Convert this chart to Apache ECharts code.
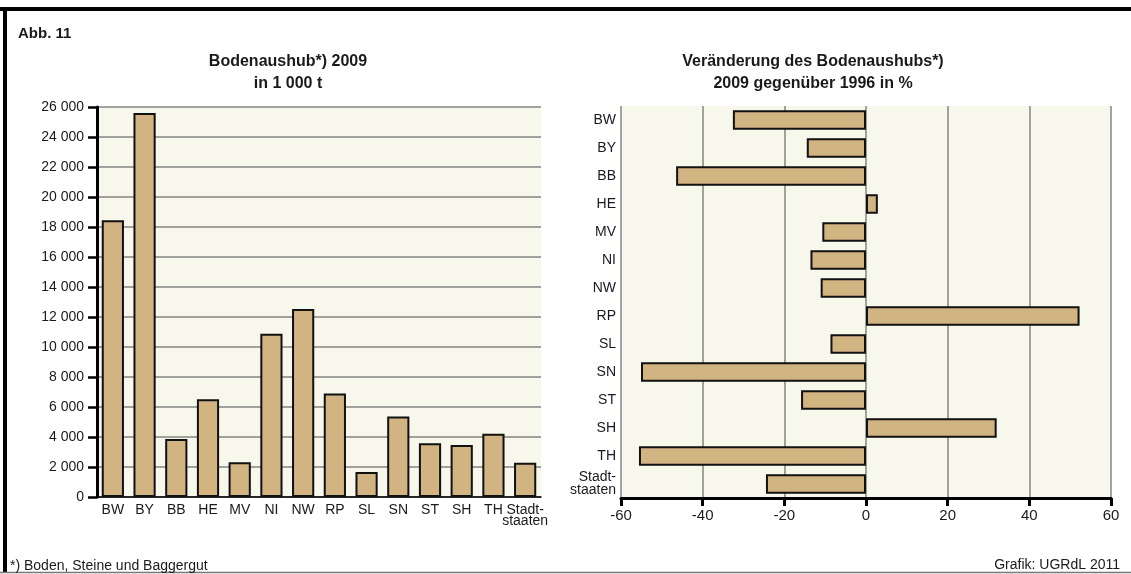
<!DOCTYPE html>
<html>
<head>
<meta charset="utf-8">
<script src="https://cdn.jsdelivr.net/npm/echarts@6/dist/echarts.min.js"></script>
<style>
html, body { margin: 0; padding: 0; background: #fff; }
#main { width: 1131px; height: 574px; }
</style>
</head>
<body>
<div id="main"></div>
<script>
// Bodenaushub 2009 in 1000 t
var laender = ['BW', 'BY', 'BB', 'HE', 'MV', 'NI', 'NW', 'RP', 'SL', 'SN', 'ST', 'SH', 'TH', 'Stadt-\nstaaten'];
var aushub2009 = [18450, 25600, 3870, 6520, 2310, 10880, 12530, 6900, 1670, 5370, 3580, 3470, 4220, 2290];
// Veraenderung 2009 gegenueber 1996 in %
var veraenderung = [-32.6, -14.5, -46.5, 2.9, -10.7, -13.6, -11.1, 52.3, -8.7, -55.1, -15.9, 32.0, -55.6, -24.5];

var barFill = '#d2b483';
var plotBg = '#f7f7eb';
var gridGray = '#858585';
var txt = '#1a1a1a';
var font = 'Liberation Sans, Arial, sans-serif';

function tausender(v) {
	return String(v).replace(/\B(?=(\d{3})+(?!\d))/g, ' ');
}

var myChart = echarts.init(document.getElementById('main'));
var option = {
	backgroundColor: '#fff',
	textStyle: { fontFamily: font },
	title: [
		{ text: 'Abb. 11', left: 13, top: 21, textStyle: { fontSize: 15, fontWeight: 'bold', color: txt } },
		{
			text: 'Bodenaushub*) 2009\nin 1 000 t', left: 283, top: 46, textAlign: 'center',
			textStyle: { fontSize: 16, fontWeight: 'bold', color: txt, lineHeight: 22 }
		},
		{
			text: 'Veränderung des Bodenaushubs*)\n2009 gegenüber 1996 in %', left: 808, top: 46, textAlign: 'center',
			textStyle: { fontSize: 16, fontWeight: 'bold', color: txt, lineHeight: 22 }
		},
		{ text: '*) Boden, Steine und Baggergut', left: 5, top: 554, textStyle: { fontSize: 14, fontWeight: 'normal', color: txt } },
		{ text: 'Grafik: UGRdL 2011', right: 6, top: 553, textStyle: { fontSize: 14, fontWeight: 'normal', color: txt } }
	],
	graphic: [
		{ type: 'line', shape: { x1: 0, y1: 9, x2: 1131, y2: 9 }, style: { stroke: '#000', lineWidth: 4 } },
		{ type: 'line', shape: { x1: 5, y1: 9, x2: 5, y2: 573 }, style: { stroke: '#000', lineWidth: 4 } },
		{ type: 'line', shape: { x1: 0, y1: 572.5, x2: 1131, y2: 572.5 }, style: { stroke: '#777', lineWidth: 1.5 } }
	],
	grid: [
		{ left: 97, top: 107, width: 444, height: 390, show: true, backgroundColor: plotBg, borderWidth: 0 },
		{ left: 621, top: 106, width: 490, height: 392, show: true, backgroundColor: plotBg, borderWidth: 0 }
	],
	xAxis: [
		{
			type: 'category', gridIndex: 0, data: laender,
			axisLine: { lineStyle: { color: '#000', width: 1.5 } },
			axisTick: { show: false },
			axisLabel: { color: txt, fontSize: 14, margin: 8, lineHeight: 11, interval: 0 }
		},
		{
			type: 'value', gridIndex: 1, min: -60, max: 60, interval: 20,
			axisLine: { show: true, onZero: false, lineStyle: { color: '#000', width: 3 } },
			axisTick: { show: true, length: 8, lineStyle: { color: '#000', width: 3 } },
			axisLabel: { color: txt, fontSize: 15, margin: 10 },
			splitLine: { show: true, lineStyle: { color: gridGray, width: 1.5 } }
		}
	],
	yAxis: [
		{
			type: 'value', gridIndex: 0, min: 0, max: 26000, interval: 2000,
			axisLine: { show: true, lineStyle: { color: '#000', width: 3 } },
			axisTick: { show: true, length: 9, lineStyle: { color: '#000', width: 2.5 } },
			axisLabel: { color: txt, fontSize: 14, margin: 13, formatter: tausender },
			splitLine: { show: true, lineStyle: { color: gridGray, width: 1.5 } }
		},
		{
			type: 'category', gridIndex: 1, data: laender, inverse: true,
			axisLine: { show: false },
			axisTick: { show: false },
			axisLabel: { color: txt, fontSize: 14, margin: 5, lineHeight: 13, interval: 0 },
			splitLine: { show: false }
		}
	],
	series: [
		{
			name: 'Bodenaushub 2009', type: 'bar', xAxisIndex: 0, yAxisIndex: 0,
			data: aushub2009, barWidth: '70%',
			itemStyle: { color: barFill, borderColor: '#111', borderWidth: 2 }
		},
		{
			name: 'Veränderung in %', type: 'bar', xAxisIndex: 1, yAxisIndex: 1,
			data: veraenderung, barWidth: '70%',
			itemStyle: { color: barFill, borderColor: '#111', borderWidth: 2 }
		}
	]
};
myChart.setOption(option);
</script>
</body>
</html>
